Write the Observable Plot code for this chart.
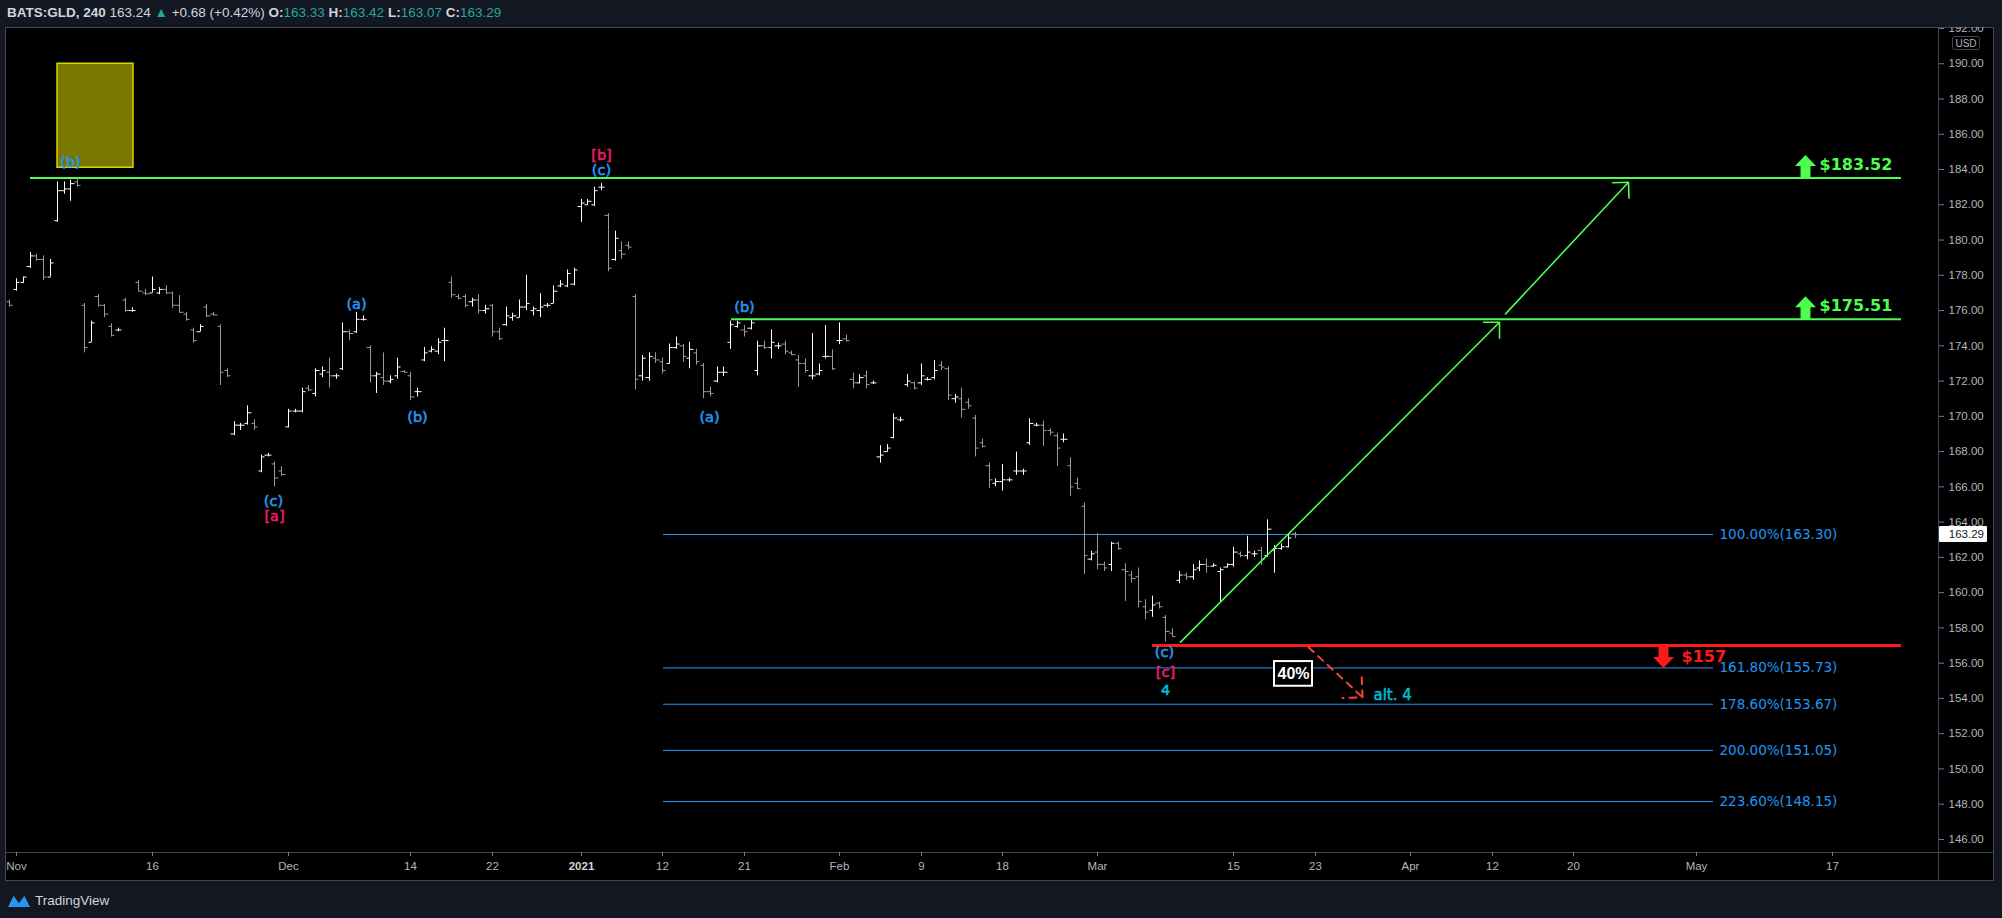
<!DOCTYPE html>
<html>
<head>
<meta charset="utf-8">
<script src="https://cdn.jsdelivr.net/npm/d3@7"></script>
<script src="https://cdn.jsdelivr.net/npm/@observablehq/plot@0.6"></script>
<style>
  html, body { margin:0; padding:0; }
  body { width:2002px; height:918px; background:#131722; position:relative; overflow:hidden; font-family:"Liberation Sans", Arial, sans-serif; }
  #panel { position:absolute; left:5px; top:27px; width:1989px; height:854px; background:#000; border:1px solid #434651; box-sizing:border-box; }
  .sep { position:absolute; background:#434651; }
  #chart { position:absolute; left:0; top:0; }
  #header { position:absolute; left:0; top:0; width:2002px; height:27px; background:#131722; color:#d1d4dc; font-size:13.5px; z-index:5; }
  #header .t { position:absolute; left:7px; top:5px; white-space:nowrap; }
  #header .g { color:#26a69a; }
  #header b { font-weight:bold; }
  .ov { position:absolute; z-index:6; }
</style>
</head>
<body>
<div id="panel"></div>
<div class="sep" style="left:1938px; top:27px; width:1px; height:854px;"></div>
<div class="sep" style="left:5px; top:852px; width:1989px; height:1px;"></div>
<div id="chart"></div>
<div id="header"><div class="t"><b>BATS:GLD, 240</b> 163.24 <span class="g">▲</span> +0.68 (+0.42%) <b>O:</b><span class="g">163.33</span> <b>H:</b><span class="g">163.42</span> <b>L:</b><span class="g">163.07</span> <b>C:</b><span class="g">163.29</span></div></div>
<div class="ov" style="left:7px; top:892px; display:flex; align-items:center; gap:4px; color:#d1d4dc; font-size:13.5px;">
  <svg width="24" height="16" viewBox="0 0 24 16"><path d="M1 15 L7 3 L12 10 L17 3 L23 15 Z" fill="#2196f3"/><path d="M7 3 L12 10 L17 3" fill="none" stroke="#131722" stroke-width="1.5"/></svg>
  <span>TradingView</span>
</div>
<script>
// ---------- data ----------
const firstBarIndex = -1;
const barOpen = [176.5,177.2,177.6,178.5,179.1,178.9,177.9,181.1,182.8,182.9,183.3,
176.3,174.2,176.8,176.3,175.1,174.9,176.6,176.0,177.6,177.0,
177.0,177.0,177.2,177.0,176.3,175.8,174.9,174.8,176.2,175.8,
175.1,172.6,169.0,169.5,169.6,169.6,166.9,167.8,167.3,166.9,
169.4,170.3,170.3,171.6,171.3,172.4,172.5,172.3,172.7,174.8,
174.8,175.5,173.9,172.3,172.2,172.0,172.3,172.55,172.3,171.4,
173.2,173.7,173.7,174.3,177.6,176.8,176.8,176.5,176.6,176.0,
176.3,174.8,175.2,175.6,175.6,176.2,176.0,176.0,176.3,176.4,
177.4,177.4,177.5,181.9,182.0,182.0,183.0,181.4,178.9,179.4,
179.7,176.8,172.3,172.2,173.3,173.1,173.0,173.9,174.0,173.3,
173.6,172.9,171.4,172.0,172.5,174.2,175.1,174.9,175.0,172.6,
174.0,173.9,174.0,174.1,173.6,173.2,173.0,172.3,172.4,173.4,
173.4,174.3,174.4,172.1,171.9,172.3,171.9,167.7,168.0,168.8,
169.8,171.8,171.9,171.9,172.1,172.2,172.9,172.7,171.0,171.0,
170.8,169.9,168.5,167.2,166.2,166.3,166.4,166.9,166.9,168.5,
169.5,169.5,169.2,168.9,168.7,167.2,166.2,164.9,161.9,162.3,
161.6,161.6,162.8,161.3,161.0,160.9,159.2,159.0,159.4,158.6,
157.7,160.7,161.0,160.9,161.4,161.6,161.5,161.2,161.45,161.6,
162.2,162.1,162.2,162.4,162.1,162.4,162.5,162.6,163.33];
const barHigh = [176.6,177.8,177.9,179.3,179.2,179.1,178.9,183.3,183.3,183.4,183.5,
176.4,175.4,176.9,176.35,175.25,175.0,176.7,176.16,177.7,177.2,
177.9,177.3,177.4,177.05,176.85,175.9,175.0,175.2,176.35,175.9,
175.2,172.7,169.7,169.6,170.6,169.8,167.8,167.9,167.4,167.15,
170.4,170.4,171.6,171.75,172.7,172.8,173.3,172.4,175.3,174.9,
175.9,175.7,174.0,172.5,173.6,172.3,173.3,172.6,172.5,171.6,
173.9,173.95,174.4,175.0,177.9,176.9,176.9,176.7,176.9,176.3,
176.35,175.0,176.2,175.85,176.6,178.0,176.2,176.95,176.4,177.4,
177.7,178.3,178.4,182.3,182.3,183.0,183.2,181.5,180.5,179.9,
179.9,176.9,173.45,173.6,173.6,173.3,174.1,174.5,174.07,174.2,
173.8,173.0,171.65,172.8,172.8,175.4,175.4,175.15,175.45,174.26,
174.26,174.9,174.15,174.26,173.7,173.45,173.26,174.7,172.97,175.15,
173.77,175.3,174.6,172.45,172.37,172.56,172.0,168.34,168.4,170.14,
169.95,172.37,171.94,172.97,172.2,173.16,173.1,172.8,171.24,171.6,
171.0,170.05,168.7,167.35,166.46,167.27,166.5,167.97,167.0,169.86,
169.6,169.73,169.3,169.05,169.0,167.65,166.5,165.08,162.35,163.34,
161.73,162.86,162.86,161.64,161.2,161.4,159.6,159.8,159.46,158.7,
157.95,161.2,161.1,161.6,161.8,161.9,161.64,161.4,161.64,162.58,
162.3,163.2,162.35,162.58,164.13,162.67,162.77,163.34,163.42];
const barLow = [176.2,177.1,177.55,178.4,178.8,177.7,177.9,181.0,182.6,182.2,183.0,
173.6,174.2,176.2,175.6,174.5,174.8,175.9,175.9,177.05,176.85,
177.0,176.9,176.9,176.1,175.85,175.4,174.15,174.8,175.6,175.7,
171.75,172.2,168.9,169.2,169.5,169.2,166.8,167.7,166.0,166.6,
169.35,170.2,170.2,171.4,171.1,172.2,171.6,172.1,172.6,174.3,
174.7,175.4,171.9,171.3,171.75,171.85,172.1,172.45,170.9,171.1,
173.1,173.6,173.5,173.1,176.7,176.6,176.16,176.2,175.8,175.8,
174.5,174.3,175.1,175.4,175.6,176.0,175.7,175.6,176.15,176.4,
177.3,177.3,177.4,181.0,181.96,181.9,182.8,178.2,178.8,178.9,
179.45,171.5,172.0,172.0,173.0,172.4,172.97,173.8,173.07,172.7,
172.9,171.0,171.1,171.9,172.26,173.8,175.0,174.5,174.9,172.3,
173.8,173.26,173.8,173.5,173.45,171.65,172.45,172.07,172.3,173.26,
172.6,174.07,174.2,171.56,171.84,171.56,171.8,167.34,167.97,168.72,
169.67,171.65,171.5,171.75,172.0,172.07,172.6,170.9,170.75,169.9,
170.4,167.7,168.2,165.9,166.0,165.76,166.27,166.65,166.65,168.35,
169.4,168.3,168.9,167.16,168.5,165.45,165.83,161.03,161.8,161.3,
161.2,161.2,162.4,159.5,160.54,159.14,158.46,158.6,159.08,157.2,
157.48,160.5,160.7,160.7,161.2,161.1,161.45,159.46,161.4,161.45,
161.98,161.86,162.0,161.54,162.0,161.1,162.4,162.54,163.07];
const barClose = [176.3,177.6,177.9,179.1,178.9,177.9,178.7,182.8,182.9,183.2,183.1,
173.9,175.3,176.3,175.8,174.6,174.9,176.0,176.0,177.1,176.95,
177.2,177.2,177.0,176.3,175.9,175.5,174.3,175.1,175.7,175.75,
172.5,172.3,169.5,169.5,170.2,169.4,167.7,167.8,166.5,166.7,
170.3,170.3,171.4,171.5,172.6,172.6,172.3,172.3,174.8,174.7,
175.5,175.5,172.3,172.4,172.0,172.1,172.8,172.5,171.1,171.4,
173.6,173.8,174.2,174.3,176.9,176.7,176.3,176.6,176.0,176.1,
174.8,174.4,175.7,175.7,176.2,176.4,176.1,176.2,176.3,177.1,
177.5,178.1,178.3,182.1,182.2,182.8,183.0,178.4,180.1,179.2,
179.6,172.1,173.3,173.4,173.2,172.6,173.9,174.1,173.4,173.8,
173.1,171.4,171.3,172.5,172.5,175.2,175.3,174.8,175.3,174.0,
173.9,174.2,174.0,173.7,173.5,173.0,172.6,172.3,172.6,173.4,
172.7,174.3,174.3,171.9,172.2,171.8,171.9,167.8,168.2,169.9,
169.8,172.0,171.6,172.3,172.1,172.6,172.8,171.2,171.1,170.4,
170.6,168.2,168.3,166.4,166.3,166.4,166.4,166.9,166.9,169.6,
169.5,169.2,169.1,168.2,168.7,166.0,165.9,162.1,162.2,161.6,
161.4,162.8,162.5,161.2,160.8,159.5,158.9,159.3,159.2,157.8,
157.5,161.0,160.9,161.3,161.6,161.5,161.55,161.3,161.6,162.3,
162.1,162.3,162.2,161.9,163.6,162.5,162.6,163.1,163.29];
const lastClose = 163.29;

// axis ticks
const yTicks = [146,148,150,152,154,156,158,160,162,164,166,168,170,172,174,176,178,180,182,184,186,188,190,192];
const xTickBars = [0,20,40,58,70,83,95,107,121,133,145,159,179,191,205,217,229,247,267];
const xTickLabels = ["Nov","16","Dec","14","22","2021","12","21","Feb","9","18","Mar","15","23","Apr","12","20","May","17"];

// Fibonacci extension levels
const fibPct = ["100.00%","161.80%","178.60%","200.00%","223.60%"];
const fibPrice = [163.30,155.73,153.67,151.05,148.15];
const fibStartBar = 95.1, fibEndBar = 249.5;

// target / stop levels
const targetPrice = [183.52,175.51];
const targetStartBar = [2.06,105.1];
const stopPrice = 157;
const stopStartBar = 167.06;
const levelEndBar = 277.1;

// projected paths
const greenPathX1 = [171.2,219.0], greenPathY1 = [157.19,175.81];
const greenPathX2 = [218.0,237.0], greenPathY2 = [175.34,183.28];
const altPath = {x1:190.0, y1:156.9, x2:197.9, y2:154.07};

// Elliott wave labels
const waveText  = ["(b)","(c)","[a]","(a)","(b)","[b]","(c)","(a)","(b)","(c)","[c]","4"];
const waveBar   = [8.0,37.8,37.9,50,59,86,86,101.9,107,168.8,168.9,169];
const wavePrice = [184.4,165.2,164.3,176.34,169.95,184.8,183.94,169.95,176.19,156.6,155.45,154.45];
const waveKind  = ["minor","minor","major","minor","minor","major","minor","minor","minor","minor","major","alt"];

// highlight box and note
const boxBars = [6.0,17.2], boxPrices = [184.1,190.0];
const noteText = "40%", noteBar = 187.7, notePrice = 155.40;
const noteBoxBars = [184.9,190.5], noteBoxPrices = [154.69,156.09];
const altText = "alt. 4", altBar = 199.5, altPrice = 154.2;

// ---------- build ----------
const bars = barOpen.map((o,k) => ({i:k+firstBarIndex, o, h:barHigh[k], l:barLow[k], c:barClose[k]}));
const up = bars.filter(d => d.c >= d.o), dn = bars.filter(d => d.c < d.o);
const fib = fibPrice.map((p,k) => ({p, label:`${fibPct[k]}(${p.toFixed(2)})`}));
const targets = targetPrice.map((p,k) => ({p, x1:targetStartBar[k], label:"$"+p.toFixed(2)}));
const greenPaths = greenPathX1.map((x,k) => ({x1:x, y1:greenPathY1[k], x2:greenPathX2[k], y2:greenPathY2[k]}));
const waves = waveText.map((t,k) => ({t, x:waveBar[k], y:wavePrice[k], kind:waveKind[k]}));

const GREEN = "#4cff4f", RED = "#ff1a1a", BLUE = "#2196f3", PINK = "#e91e63", CYAN = "#00bcd4";
const UPC = "#ffffff", DNC = "#9a9a9a";
const kindColor = {minor:BLUE, major:PINK, alt:CYAN};

const upArrow = { draw(ctx){ ctx.moveTo(0,-11.5); ctx.lineTo(10.5,-0.5); ctx.lineTo(5,-0.5); ctx.lineTo(5,11.5); ctx.lineTo(-5,11.5); ctx.lineTo(-5,-0.5); ctx.lineTo(-10.5,-0.5); ctx.closePath(); } };
const downArrow = { draw(ctx){ ctx.moveTo(0,11.5); ctx.lineTo(10.5,0.5); ctx.lineTo(5,0.5); ctx.lineTo(5,-11.5); ctx.lineTo(-5,-11.5); ctx.lineTo(-5,0.5); ctx.lineTo(-10.5,0.5); ctx.closePath(); } };

const barLinks = (data, color) => [
  Plot.ruleX(data, {x:"i", y1:"l", y2:"h", stroke:color, strokeWidth:1}),
  Plot.link(data, {x1:d => d.i - 0.48, x2:"i", y1:"o", y2:"o", stroke:color, strokeWidth:1}),
  Plot.link(data, {x1:"i", x2:d => d.i + 0.48, y1:"c", y2:"c", stroke:color, strokeWidth:1})
];

const chart = Plot.plot({
  width:2002, height:918,
  marginLeft:5, marginRight:64, marginTop:28, marginBottom:66,
  style:{background:"transparent", color:"#b2b5be", fontFamily:"Liberation Sans, Arial, sans-serif", overflow:"visible"},
  x:{domain:[-1.62,282.6], round:true},
  y:{domain:[145.26,192.0]},
  marks:[
    Plot.rect([0], {x1:boxBars[0], x2:boxBars[1], y1:boxPrices[0], y2:boxPrices[1], fill:"#7a7800", stroke:"#d8d400", strokeWidth:1.5}),
    Plot.ruleY(fib, {y:"p", x1:fibStartBar, x2:fibEndBar, stroke:BLUE, strokeWidth:1}),
    Plot.text(fib, {y:"p", x:fibEndBar, dx:6, text:"label", textAnchor:"start", fill:BLUE, fontSize:13.5, fontFamily:"DejaVu Sans"}),
    Plot.ruleY(targets, {y:"p", x1:"x1", x2:levelEndBar, stroke:GREEN, strokeWidth:2}),
    Plot.ruleY([stopPrice], {y:d => d, x1:stopStartBar, x2:levelEndBar, stroke:RED, strokeWidth:3}),
    ...barLinks(dn, DNC),
    ...barLinks(up, UPC),
    Plot.arrow(greenPaths, {x1:"x1", y1:"y1", x2:"x2", y2:"y2", stroke:GREEN, strokeWidth:1.6, headAngle:90, headLength:15}),
    Plot.arrow([altPath], {x1:"x1", y1:"y1", x2:"x2", y2:"y2", stroke:"#f44336", strokeWidth:2, strokeDasharray:"7,6", headAngle:90, headLength:15}),
    Plot.dot(targets, {x:263.0, y:"p", dy:-11.5, symbol:upArrow, fill:GREEN, stroke:"none"}),
    Plot.text(targets, {x:265.1, y:"p", dy:-13.5, text:"label", textAnchor:"start", fill:GREEN, fontSize:16, fontWeight:"bold", fontFamily:"DejaVu Sans"}),
    Plot.dot([stopPrice], {x:242.2, y:d => d, dy:11, symbol:downArrow, fill:RED, stroke:"none"}),
    Plot.text([stopPrice], {x:244.85, y:d => d, dy:11, text:d => "$" + d, textAnchor:"start", fill:RED, fontSize:16, fontWeight:"bold", fontFamily:"DejaVu Sans"}),
    Plot.text(waves, {x:"x", y:"y", text:"t", fill:d => kindColor[d.kind], stroke:d => kindColor[d.kind], strokeWidth:0.6, fontSize:14.5, fontFamily:"DejaVu Sans"}),
    Plot.text([altText], {x:altBar, y:altPrice, text:d => d, textAnchor:"start", fill:CYAN, stroke:CYAN, strokeWidth:0.5, fontSize:15, fontFamily:"DejaVu Sans"}),
    Plot.rect([0], {x1:noteBoxBars[0], x2:noteBoxBars[1], y1:noteBoxPrices[0], y2:noteBoxPrices[1], fill:"#000", stroke:"#ffffff", strokeWidth:2}),
    Plot.text([noteText], {x:noteBar, y:notePrice, text:d => d, fill:"#ffffff", fontSize:16, fontWeight:"bold"}),
    Plot.axisY({anchor:"right", ticks:yTicks, tickFormat:d => d.toFixed(2), tickSize:5, tickPadding:5, fontSize:11.5, label:null, stroke:"#787b86", fill:"#b2b5be"}),
    Plot.axisX({anchor:"bottom", ticks:xTickBars.filter((d,k) => xTickLabels[k] !== "2021"), tickFormat:d => xTickLabels[xTickBars.indexOf(d)], tickSize:4, tickPadding:5, fontSize:11.5, label:null, stroke:"#787b86", fill:"#b2b5be"}),
    Plot.axisX({anchor:"bottom", ticks:xTickBars.filter((d,k) => xTickLabels[k] === "2021"), tickFormat:d => xTickLabels[xTickBars.indexOf(d)], tickSize:4, tickPadding:5, fontSize:11.5, fontWeight:"bold", label:null, stroke:"#787b86", fill:"#d1d4dc"})
  ]
});
document.getElementById("chart").appendChild(chart);

// right-axis overlays (positions from the plot's own y scale)
const ys = chart.scale("y");
const py = ys.apply(lastClose);
const lab = document.createElement("div");
lab.className = "ov";
lab.style.cssText = `left:1939px; top:${py - 8}px; width:48px; height:16px; background:#fff; color:#131722; font-size:11.5px; line-height:16px; text-align:right; padding-right:3px; box-sizing:border-box; border-radius:1px;`;
lab.textContent = lastClose.toFixed(2);
document.body.appendChild(lab);
const usd = document.createElement("div");
usd.className = "ov";
usd.style.cssText = "left:1952px; top:36px; width:28px; height:14px; border:1px solid #434651; border-radius:3px; color:#b2b5be; font-size:10px; line-height:14px; text-align:center; box-sizing:border-box; background:#000;";
usd.textContent = "USD";
document.body.appendChild(usd);
</script>
</body>
</html>
